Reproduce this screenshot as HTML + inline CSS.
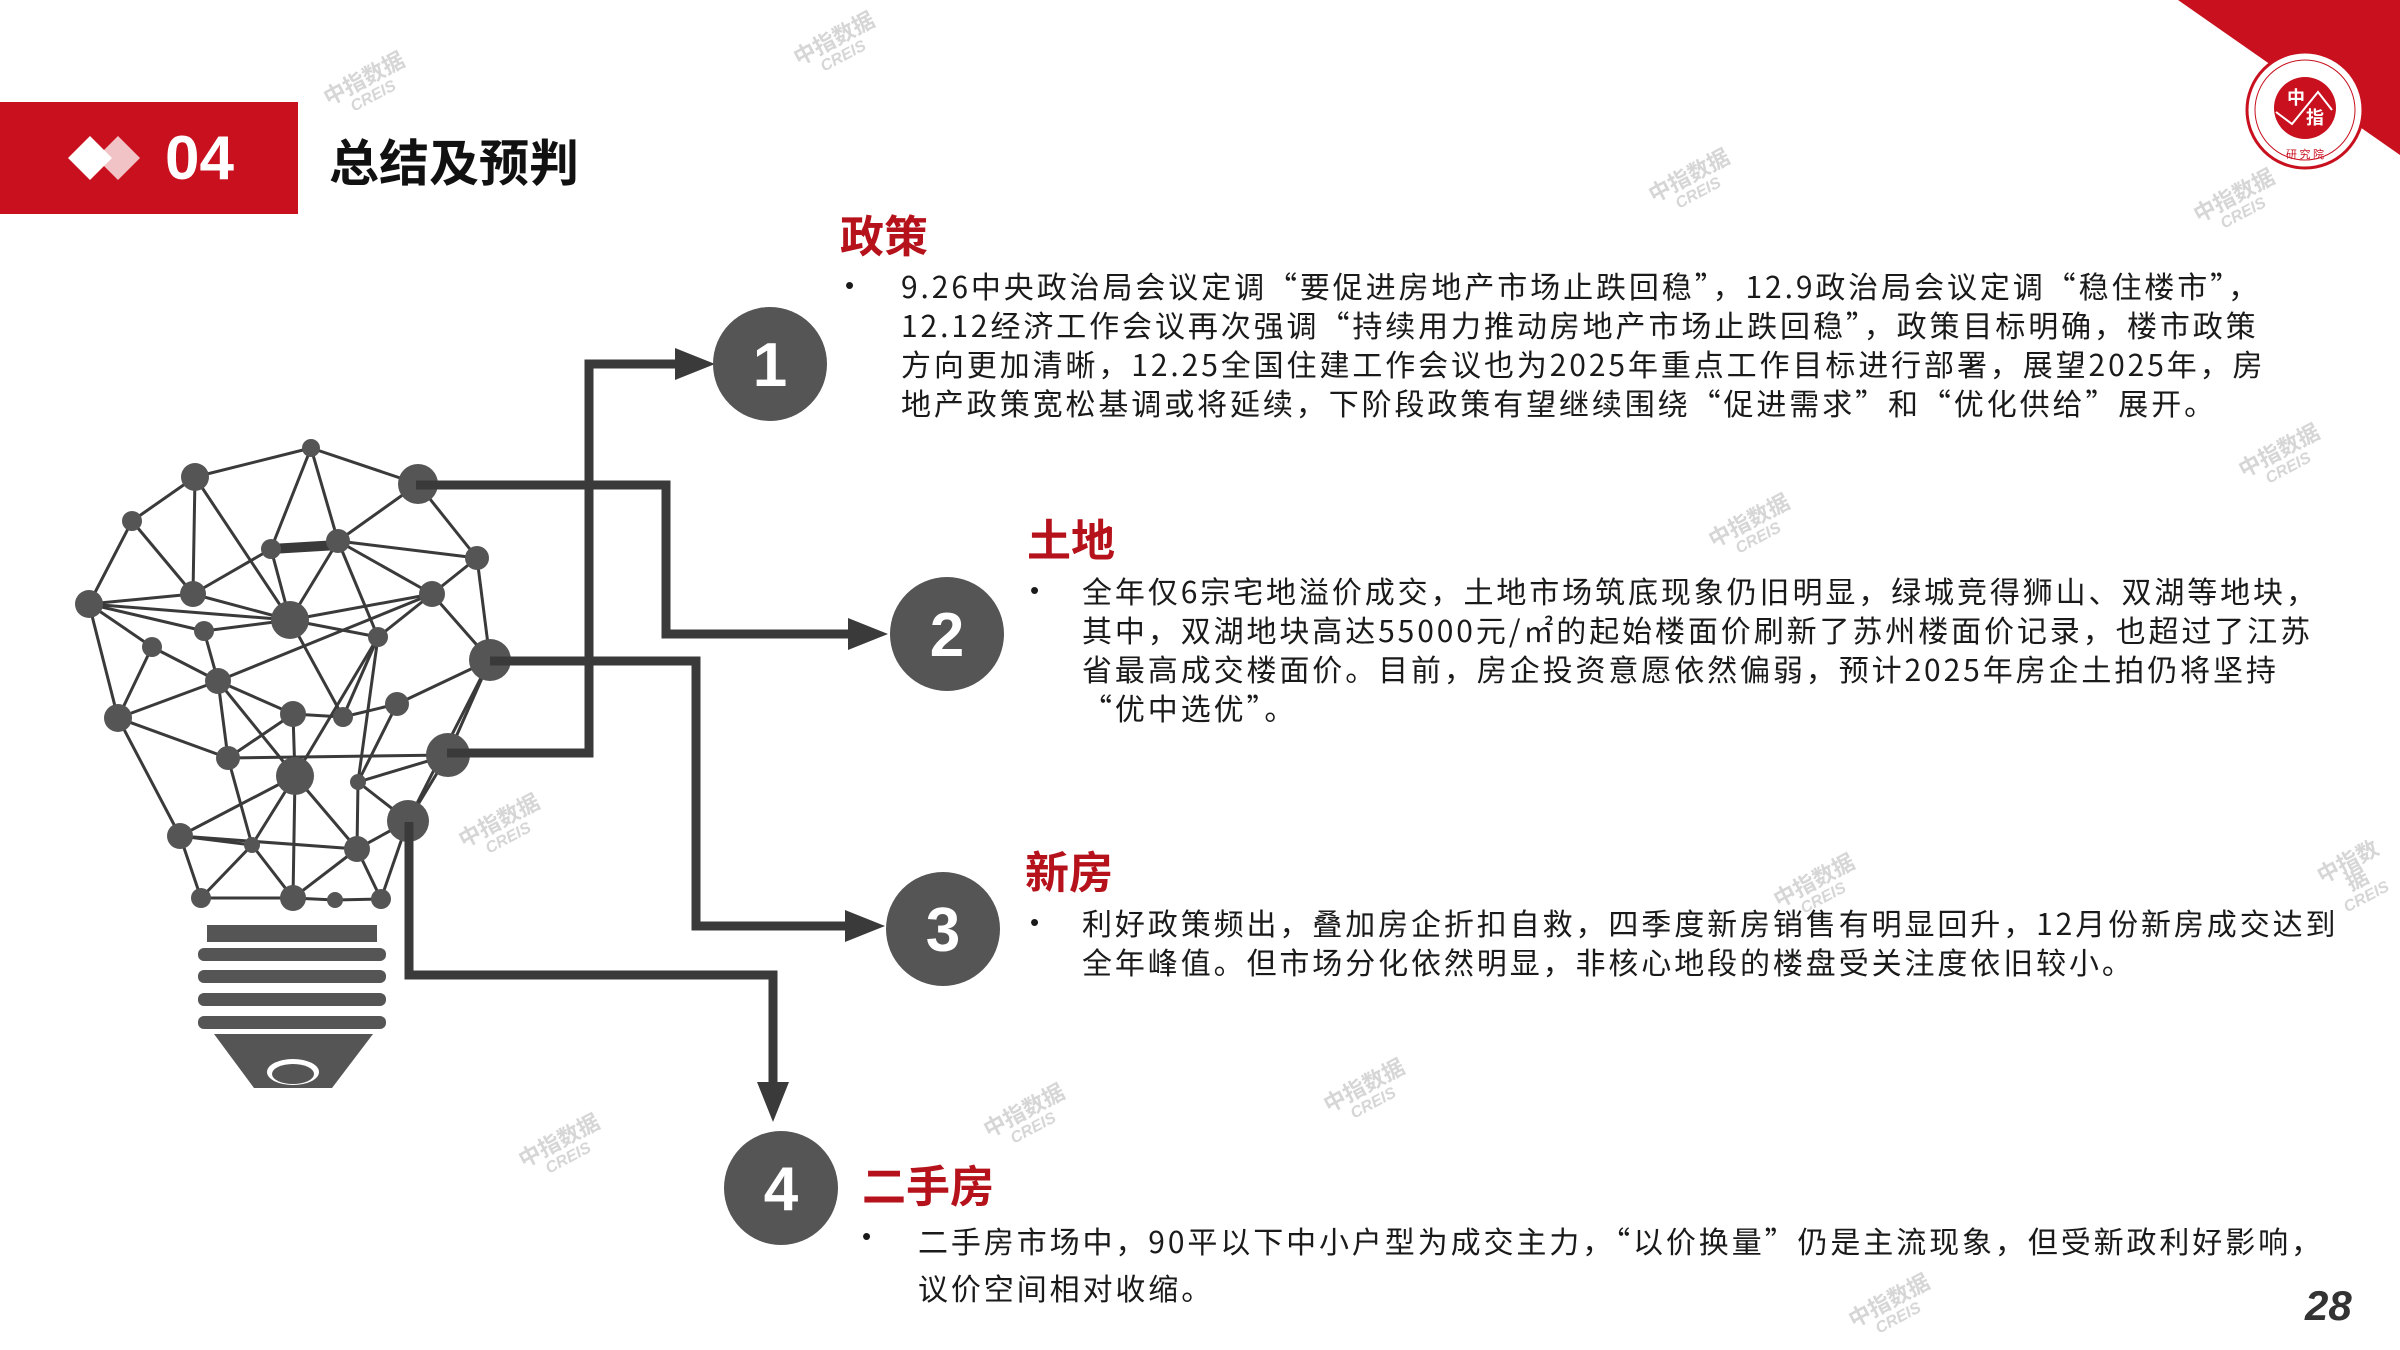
<!DOCTYPE html>
<html><head><meta charset="utf-8">
<style>
html,body{margin:0;padding:0;}
body{width:2400px;height:1350px;position:relative;overflow:hidden;background:#fff;font-family:"Liberation Sans","Noto Sans CJK SC",sans-serif;color:#1a1a1a;}
.abs{position:absolute;}
.h{position:absolute;color:#b5121b;font-weight:bold;font-size:44px;line-height:50px;font-family:"Noto Sans CJK SC",sans-serif;}
.t{position:absolute;font-size:30px;line-height:39px;white-space:nowrap;font-family:"Noto Sans CJK SC",sans-serif;letter-spacing:2.9px;}
.b{position:absolute;font-size:26px;}
.wm{position:absolute;color:#d6d6d6;font-size:22px;line-height:20px;transform:rotate(-28deg);text-align:center;font-weight:bold;}
.wm span{display:block;font-size:16px;font-style:italic;}
</style></head><body>

<div class="abs" style="left:0;top:102px;width:298px;height:112px;background:#c8101e;"></div>
<svg class="abs" style="left:60px;top:128px" width="90" height="60" viewBox="0 0 90 60">
<polygon points="8,30 30,8 52,30 30,52" fill="#fff"/>
<polygon points="36,30 58,8 80,30 58,52" fill="#fff" opacity="0.75"/>
</svg>
<div class="abs" style="left:165px;top:124px;color:#fff;font-weight:bold;font-size:62px;line-height:70px;">04</div>
<div class="abs" style="left:329px;top:130px;font-weight:bold;font-size:50px;line-height:60px;color:#111;font-family:'Noto Sans CJK SC',sans-serif;">总结及预判</div>

<svg class="abs" style="left:2100px;top:0" width="300" height="200" viewBox="0 0 300 200">
<polygon points="78,0 300,0 300,155" fill="#c8101e"/>
<circle cx="205" cy="110" r="58" fill="#fff" stroke="#c8101e" stroke-width="3"/>
<circle cx="205" cy="110" r="50" fill="none" stroke="#c8101e" stroke-width="1"/>
<circle cx="205" cy="108" r="31" fill="#c8101e"/>
<polyline points="176,112 192,124 218,92 232,110" fill="none" stroke="#fff" stroke-width="2"/>
<text x="196" y="104" font-size="18" fill="#fff" text-anchor="middle" font-family="Noto Sans CJK SC" font-weight="bold">中</text>
<text x="215" y="124" font-size="18" fill="#fff" text-anchor="middle" font-family="Noto Sans CJK SC" font-weight="bold">指</text>
<text x="205" y="158" font-size="11" fill="#c8101e" text-anchor="middle" font-family="Noto Sans CJK SC">研 究 院</text>
</svg>

<svg class="abs" style="left:0;top:0" width="2400" height="1350" viewBox="0 0 2400 1350">
<g stroke="#3a3a3a" stroke-width="3" fill="none">
<line x1="311" y1="448" x2="195" y2="477"/><line x1="311" y1="448" x2="418" y2="484"/>
<line x1="311" y1="448" x2="271" y2="549"/><line x1="311" y1="448" x2="338" y2="541"/>
<line x1="195" y1="477" x2="132" y2="521"/><line x1="195" y1="477" x2="193" y2="594"/>
<line x1="195" y1="477" x2="290" y2="620"/><line x1="132" y1="521" x2="89" y2="604"/>
<line x1="132" y1="521" x2="193" y2="594"/><line x1="338" y1="541" x2="418" y2="484"/>
<line x1="338" y1="541" x2="477" y2="558"/><line x1="338" y1="541" x2="290" y2="620"/>
<line x1="338" y1="541" x2="432" y2="594"/><line x1="338" y1="541" x2="378" y2="637"/>
<line x1="271" y1="549" x2="193" y2="594"/><line x1="271" y1="549" x2="290" y2="620"/>
<line x1="418" y1="484" x2="477" y2="558"/><line x1="477" y1="558" x2="432" y2="594"/>
<line x1="477" y1="558" x2="490" y2="660"/><line x1="89" y1="604" x2="193" y2="594"/>
<line x1="89" y1="604" x2="290" y2="620"/><line x1="89" y1="604" x2="204" y2="631"/>
<line x1="89" y1="604" x2="152" y2="647"/><line x1="89" y1="604" x2="118" y2="718"/>
<line x1="193" y1="594" x2="290" y2="620"/><line x1="290" y1="620" x2="432" y2="594"/>
<line x1="290" y1="620" x2="204" y2="631"/><line x1="290" y1="620" x2="378" y2="637"/>
<line x1="290" y1="620" x2="343" y2="717"/><line x1="432" y1="594" x2="378" y2="637"/>
<line x1="432" y1="594" x2="490" y2="660"/><line x1="432" y1="594" x2="218" y2="681"/>
<line x1="204" y1="631" x2="218" y2="681"/><line x1="152" y1="647" x2="218" y2="681"/>
<line x1="152" y1="647" x2="118" y2="718"/><line x1="218" y1="681" x2="118" y2="718"/>
<line x1="218" y1="681" x2="293" y2="714"/><line x1="218" y1="681" x2="228" y2="758"/>
<line x1="218" y1="681" x2="295" y2="776"/><line x1="378" y1="637" x2="343" y2="717"/>
<line x1="378" y1="637" x2="358" y2="782"/><line x1="490" y1="660" x2="397" y2="704"/>
<line x1="490" y1="660" x2="408" y2="821"/><line x1="293" y1="714" x2="343" y2="717"/>
<line x1="293" y1="714" x2="295" y2="776"/><line x1="293" y1="714" x2="228" y2="758"/>
<line x1="397" y1="704" x2="358" y2="782"/><line x1="397" y1="704" x2="343" y2="717"/>
<line x1="118" y1="718" x2="228" y2="758"/><line x1="118" y1="718" x2="180" y2="836"/>
<line x1="228" y1="758" x2="448" y2="755"/><line x1="228" y1="758" x2="252" y2="845"/>
<line x1="448" y1="755" x2="358" y2="782"/><line x1="295" y1="776" x2="180" y2="836"/>
<line x1="295" y1="776" x2="252" y2="845"/><line x1="295" y1="776" x2="357" y2="849"/>
<line x1="295" y1="776" x2="293" y2="898"/><line x1="358" y1="782" x2="408" y2="821"/>
<line x1="358" y1="782" x2="357" y2="849"/><line x1="408" y1="821" x2="357" y2="849"/>
<line x1="408" y1="821" x2="381" y2="899"/><line x1="180" y1="836" x2="252" y2="845"/>
<line x1="180" y1="836" x2="357" y2="849"/><line x1="180" y1="836" x2="201" y2="898"/>
<line x1="252" y1="845" x2="201" y2="898"/><line x1="252" y1="845" x2="293" y2="898"/>
<line x1="357" y1="849" x2="293" y2="898"/><line x1="357" y1="849" x2="381" y2="899"/>
<line x1="201" y1="898" x2="293" y2="898"/><line x1="293" y1="898" x2="335" y2="900"/>
<line x1="335" y1="900" x2="381" y2="899"/><line x1="490" y1="660" x2="448" y2="755"/>
<line x1="448" y1="755" x2="408" y2="821"/><line x1="378" y1="637" x2="295" y2="776"/>
</g>
<line x1="271" y1="549" x2="338" y2="545" stroke="#3a3a3a" stroke-width="10"/>
<g fill="#555">
<circle cx="311" cy="448" r="9"/><circle cx="195" cy="477" r="14"/><circle cx="418" cy="484" r="20"/>
<circle cx="132" cy="521" r="10"/><circle cx="271" cy="549" r="10"/><circle cx="338" cy="541" r="12"/>
<circle cx="477" cy="558" r="12"/><circle cx="89" cy="604" r="14"/><circle cx="193" cy="594" r="13"/>
<circle cx="290" cy="620" r="19"/><circle cx="432" cy="594" r="13"/><circle cx="204" cy="631" r="10"/>
<circle cx="378" cy="637" r="10"/><circle cx="152" cy="647" r="10"/><circle cx="490" cy="660" r="21"/>
<circle cx="218" cy="681" r="13"/><circle cx="293" cy="714" r="13"/><circle cx="343" cy="717" r="10"/>
<circle cx="397" cy="704" r="12"/><circle cx="118" cy="718" r="14"/><circle cx="448" cy="755" r="22"/>
<circle cx="228" cy="758" r="12"/><circle cx="295" cy="776" r="19"/><circle cx="358" cy="782" r="8"/>
<circle cx="408" cy="821" r="21"/><circle cx="180" cy="836" r="13"/><circle cx="252" cy="845" r="8"/>
<circle cx="357" cy="849" r="13"/><circle cx="201" cy="898" r="10"/><circle cx="293" cy="898" r="13"/>
<circle cx="335" cy="900" r="8"/><circle cx="381" cy="899" r="10"/>
</g>
<rect x="207" y="925" width="170" height="17" fill="#555"/>
<g fill="#555">
<rect x="198" y="948" width="188" height="13" rx="6"/>
<rect x="198" y="970" width="188" height="13" rx="6"/>
<rect x="198" y="993" width="188" height="13" rx="6"/>
<rect x="198" y="1016" width="188" height="13" rx="6"/>
<polygon points="214,1034 373,1034 332,1088 254,1088"/>
</g>
<ellipse cx="293" cy="1072" rx="26" ry="13" fill="#fff"/>
<ellipse cx="293" cy="1074" rx="21" ry="10" fill="#555"/>

<g stroke="#3a3a3a" stroke-width="9" fill="none" stroke-linejoin="miter">
<polyline points="447,753 589,753 589,364 685,364"/>
<polyline points="416,485 666,485 666,634 858,634"/>
<polyline points="490,661 696,661 696,926 855,926"/>
<polyline points="409,822 409,975 773,975 773,1092"/>
</g>
<g fill="#3a3a3a">
<polygon points="675,348 715,364 675,380"/>
<polygon points="848,618 888,634 848,650"/>
<polygon points="845,910 885,926 845,942"/>
<polygon points="757,1082 773,1122 789,1082"/>
</g>
<g fill="#555">
<circle cx="770" cy="364" r="57"/><circle cx="947" cy="634" r="57"/>
<circle cx="943" cy="929" r="57"/><circle cx="781" cy="1188" r="57"/>
</g>
<g fill="#fff" font-family="Liberation Sans" font-weight="bold" font-size="62" text-anchor="middle">
<text x="770" y="386">1</text><text x="947" y="656">2</text>
<text x="943" y="951">3</text><text x="781" y="1210">4</text>
</g>
</svg>

<div class="h" style="left:840px;top:208px;">政策</div>
<div class="b" style="left:845px;top:270px;">•</div>
<div class="t" style="left:901px;top:266px;">9.26中央政治局会议定调“要促进房地产市场止跌回稳”，12.9政治局会议定调“稳住楼市”，<br>12.12经济工作会议再次强调“持续用力推动房地产市场止跌回稳”，政策目标明确，楼市政策<br>方向更加清晰，12.25全国住建工作会议也为2025年重点工作目标进行部署，展望2025年，房<br>地产政策宽松基调或将延续，下阶段政策有望继续围绕“促进需求”和“优化供给”展开。</div>

<div class="h" style="left:1027px;top:512px;">土地</div>
<div class="b" style="left:1030px;top:575px;">•</div>
<div class="t" style="left:1082px;top:571px;">全年仅6宗宅地溢价成交，土地市场筑底现象仍旧明显，绿城竞得狮山、双湖等地块，<br>其中，双湖地块高达55000元/㎡的起始楼面价刷新了苏州楼面价记录，也超过了江苏<br>省最高成交楼面价。目前，房企投资意愿依然偏弱，预计2025年房企土拍仍将坚持<br>“优中选优”。</div>

<div class="h" style="left:1025px;top:844px;">新房</div>
<div class="b" style="left:1030px;top:907px;">•</div>
<div class="t" style="left:1082px;top:903px;">利好政策频出，叠加房企折扣自救，四季度新房销售有明显回升，12月份新房成交达到<br>全年峰值。但市场分化依然明显，非核心地段的楼盘受关注度依旧较小。</div>

<div class="h" style="left:862px;top:1158px;">二手房</div>
<div class="b" style="left:862px;top:1221px;">•</div>
<div class="t" style="left:918px;top:1217px;line-height:47px;">二手房市场中，90平以下中小户型为成交主力，“以价换量”仍是主流现象，但受新政利好影响，<br>议价空间相对收缩。</div>

<div class="abs" style="left:2305px;top:1282px;font-size:42px;font-weight:bold;font-style:italic;color:#333;">28</div>

<div class="wm" style="left:325px;top:68px;">中指数据<span>CREIS</span></div>
<div class="wm" style="left:795px;top:28px;">中指数据<span>CREIS</span></div>
<div class="wm" style="left:1650px;top:165px;">中指数据<span>CREIS</span></div>
<div class="wm" style="left:2195px;top:185px;">中指数据<span>CREIS</span></div>
<div class="wm" style="left:2240px;top:440px;">中指数据<span>CREIS</span></div>
<div class="wm" style="left:1710px;top:510px;">中指数据<span>CREIS</span></div>
<div class="wm" style="left:460px;top:810px;">中指数据<span>CREIS</span></div>
<div class="wm" style="left:1775px;top:870px;">中指数据<span>CREIS</span></div>
<div class="wm" style="left:2315px;top:850px;">中指数据<span>CREIS</span></div>
<div class="wm" style="left:985px;top:1100px;">中指数据<span>CREIS</span></div>
<div class="wm" style="left:1325px;top:1075px;">中指数据<span>CREIS</span></div>
<div class="wm" style="left:520px;top:1130px;">中指数据<span>CREIS</span></div>
<div class="wm" style="left:1850px;top:1290px;">中指数据<span>CREIS</span></div>
</body></html>
